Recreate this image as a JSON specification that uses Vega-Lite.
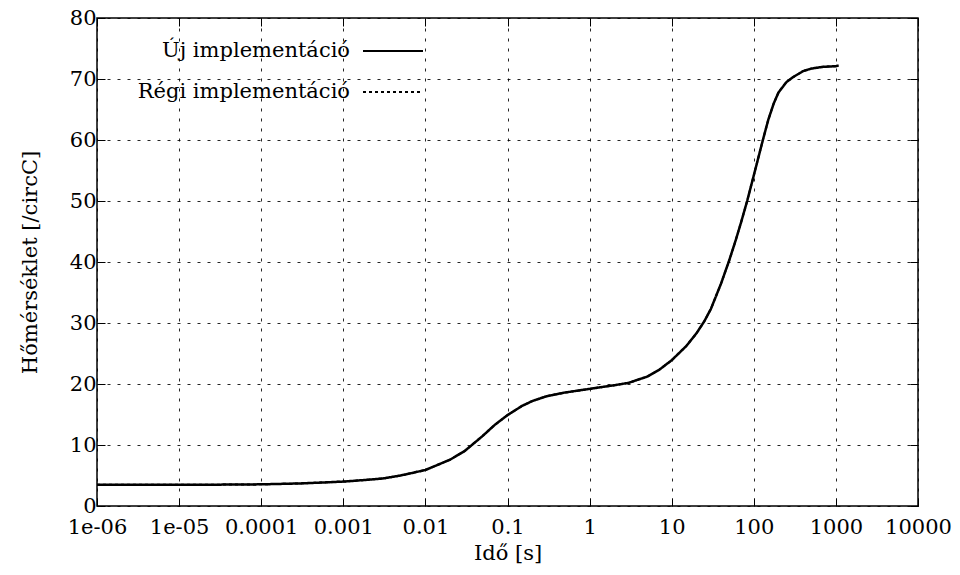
{
  "$schema": "https://vega.github.io/schema/vega-lite/v6.json",
  "width": 821,
  "height": 488,
  "autosize": {"type": "none"},
  "padding": {"left": 97, "top": 18, "right": 42, "bottom": 69},
  "background": "white",
  "config": {
    "view": {"stroke": "#000", "strokeWidth": 1.5},
    "font": "DejaVu Serif",
    "axis": {
      "labelFont": "DejaVu Serif",
      "labelFontSize": 21,
      "labelColor": "#000",
      "titleFont": "DejaVu Serif",
      "titleFontSize": 21,
      "titleFontWeight": "normal",
      "titleColor": "#000",
      "domainColor": "#000",
      "tickColor": "#000",
      "tickWidth": 1,
      "gridColor": "#000",
      "gridOpacity": 0.85,
      "gridDash": [3, 7],
      "gridWidth": 1
    },
    "legend": {
      "labelFont": "DejaVu Serif",
      "labelFontSize": 21,
      "labelColor": "#000",
      "labelLimit": 0
    }
  },
  "data": {
    "values": [
      {"t": 0.000001, "temp": 3.5, "series": "Új implementáció"},
      {"t": 0.00001, "temp": 3.5, "series": "Új implementáció"},
      {"t": 0.00003, "temp": 3.5, "series": "Új implementáció"},
      {"t": 0.0001, "temp": 3.55, "series": "Új implementáció"},
      {"t": 0.0003, "temp": 3.7, "series": "Új implementáció"},
      {"t": 0.001, "temp": 4.0, "series": "Új implementáció"},
      {"t": 0.002, "temp": 4.3, "series": "Új implementáció"},
      {"t": 0.003, "temp": 4.5, "series": "Új implementáció"},
      {"t": 0.005, "temp": 5.0, "series": "Új implementáció"},
      {"t": 0.01, "temp": 5.9, "series": "Új implementáció"},
      {"t": 0.02, "temp": 7.6, "series": "Új implementáció"},
      {"t": 0.03, "temp": 9.0, "series": "Új implementáció"},
      {"t": 0.05, "temp": 11.5, "series": "Új implementáció"},
      {"t": 0.07, "temp": 13.3, "series": "Új implementáció"},
      {"t": 0.1, "temp": 14.9, "series": "Új implementáció"},
      {"t": 0.15, "temp": 16.4, "series": "Új implementáció"},
      {"t": 0.2, "temp": 17.2, "series": "Új implementáció"},
      {"t": 0.3, "temp": 18.0, "series": "Új implementáció"},
      {"t": 0.5, "temp": 18.6, "series": "Új implementáció"},
      {"t": 1, "temp": 19.2, "series": "Új implementáció"},
      {"t": 2, "temp": 19.8, "series": "Új implementáció"},
      {"t": 3, "temp": 20.2, "series": "Új implementáció"},
      {"t": 5, "temp": 21.2, "series": "Új implementáció"},
      {"t": 7, "temp": 22.3, "series": "Új implementáció"},
      {"t": 10, "temp": 23.9, "series": "Új implementáció"},
      {"t": 15, "temp": 26.2, "series": "Új implementáció"},
      {"t": 20, "temp": 28.3, "series": "Új implementáció"},
      {"t": 25, "temp": 30.3, "series": "Új implementáció"},
      {"t": 30, "temp": 32.3, "series": "Új implementáció"},
      {"t": 40, "temp": 36.5, "series": "Új implementáció"},
      {"t": 50, "temp": 40.2, "series": "Új implementáció"},
      {"t": 60, "temp": 43.5, "series": "Új implementáció"},
      {"t": 70, "temp": 46.5, "series": "Új implementáció"},
      {"t": 83, "temp": 50, "series": "Új implementáció"},
      {"t": 100, "temp": 54.2, "series": "Új implementáció"},
      {"t": 129, "temp": 60, "series": "Új implementáció"},
      {"t": 150, "temp": 63.3, "series": "Új implementáció"},
      {"t": 175, "temp": 66, "series": "Új implementáció"},
      {"t": 200, "temp": 67.8, "series": "Új implementáció"},
      {"t": 250, "temp": 69.5, "series": "Új implementáció"},
      {"t": 300, "temp": 70.3, "series": "Új implementáció"},
      {"t": 400, "temp": 71.3, "series": "Új implementáció"},
      {"t": 500, "temp": 71.7, "series": "Új implementáció"},
      {"t": 700, "temp": 72.0, "series": "Új implementáció"},
      {"t": 1000, "temp": 72.1, "series": "Új implementáció"},
      {"t": 1080, "temp": 72.2, "series": "Új implementáció"},
      {"t": 0.000001, "temp": 3.5, "series": "Régi implementáció"},
      {"t": 0.00001, "temp": 3.5, "series": "Régi implementáció"},
      {"t": 0.00003, "temp": 3.5, "series": "Régi implementáció"},
      {"t": 0.0001, "temp": 3.55, "series": "Régi implementáció"},
      {"t": 0.0003, "temp": 3.7, "series": "Régi implementáció"},
      {"t": 0.001, "temp": 4.0, "series": "Régi implementáció"},
      {"t": 0.002, "temp": 4.3, "series": "Régi implementáció"},
      {"t": 0.003, "temp": 4.5, "series": "Régi implementáció"},
      {"t": 0.005, "temp": 5.0, "series": "Régi implementáció"},
      {"t": 0.01, "temp": 5.9, "series": "Régi implementáció"},
      {"t": 0.02, "temp": 7.6, "series": "Régi implementáció"},
      {"t": 0.03, "temp": 9.0, "series": "Régi implementáció"},
      {"t": 0.05, "temp": 11.5, "series": "Régi implementáció"},
      {"t": 0.07, "temp": 13.3, "series": "Régi implementáció"},
      {"t": 0.1, "temp": 14.9, "series": "Régi implementáció"},
      {"t": 0.15, "temp": 16.4, "series": "Régi implementáció"},
      {"t": 0.2, "temp": 17.2, "series": "Régi implementáció"},
      {"t": 0.3, "temp": 18.0, "series": "Régi implementáció"},
      {"t": 0.5, "temp": 18.6, "series": "Régi implementáció"},
      {"t": 1, "temp": 19.2, "series": "Régi implementáció"},
      {"t": 2, "temp": 19.8, "series": "Régi implementáció"},
      {"t": 3, "temp": 20.2, "series": "Régi implementáció"},
      {"t": 5, "temp": 21.2, "series": "Régi implementáció"},
      {"t": 7, "temp": 22.3, "series": "Régi implementáció"},
      {"t": 10, "temp": 23.9, "series": "Régi implementáció"},
      {"t": 15, "temp": 26.2, "series": "Régi implementáció"},
      {"t": 20, "temp": 28.3, "series": "Régi implementáció"},
      {"t": 25, "temp": 30.3, "series": "Régi implementáció"},
      {"t": 30, "temp": 32.3, "series": "Régi implementáció"},
      {"t": 40, "temp": 36.5, "series": "Régi implementáció"},
      {"t": 50, "temp": 40.2, "series": "Régi implementáció"},
      {"t": 60, "temp": 43.5, "series": "Régi implementáció"},
      {"t": 70, "temp": 46.5, "series": "Régi implementáció"},
      {"t": 83, "temp": 50, "series": "Régi implementáció"},
      {"t": 100, "temp": 54.2, "series": "Régi implementáció"},
      {"t": 129, "temp": 60, "series": "Régi implementáció"},
      {"t": 150, "temp": 63.3, "series": "Régi implementáció"},
      {"t": 175, "temp": 66, "series": "Régi implementáció"},
      {"t": 200, "temp": 67.8, "series": "Régi implementáció"},
      {"t": 250, "temp": 69.5, "series": "Régi implementáció"},
      {"t": 300, "temp": 70.3, "series": "Régi implementáció"},
      {"t": 400, "temp": 71.3, "series": "Régi implementáció"},
      {"t": 500, "temp": 71.7, "series": "Régi implementáció"},
      {"t": 700, "temp": 72.0, "series": "Régi implementáció"},
      {"t": 1000, "temp": 72.1, "series": "Régi implementáció"},
      {"t": 1080, "temp": 72.2, "series": "Régi implementáció"}
    ]
  },
  "layer": [
    {
      "transform": [{"filter": "datum.series === 'Régi implementáció'"}],
      "mark": {"type": "line", "color": "#000", "strokeWidth": 2},
      "encoding": {
        "x": {
          "field": "t", "type": "quantitative",
          "scale": {"type": "log", "domain": [0.000001, 10000], "nice": false},
          "axis": {
            "orient": "bottom",
            "title": "Idő [s]",
            "titlePadding": 5,
            "values": [0.000001, 0.00001, 0.0001, 0.001, 0.01, 0.1, 1, 10, 100, 1000, 10000],
            "labelExpr": "['1e-06','1e-05','0.0001','0.001','0.01','0.1','1','10','100','1000','10000'][round(log(datum.value)/LN10)+6]",
            "tickSize": -8,
            "labelPadding": 18,
            "labelFlush": false,
            "labelOverlap": false,
            "grid": true,
            "domain": false
          }
        },
        "y": {
          "field": "temp", "type": "quantitative",
          "scale": {"domain": [0, 80], "nice": false},
          "axis": {
            "orient": "left",
            "title": "Hőmérséklet [/circC]",
            "titlePadding": 29,
            "values": [0, 10, 20, 30, 40, 50, 60, 70, 80],
            "tickSize": -8,
            "labelPadding": 9,
            "grid": true,
            "domain": false
          }
        },
        "strokeDash": {
          "field": "series", "type": "nominal",
          "scale": {"domain": ["Új implementáció", "Régi implementáció"], "range": [[1, 0], [3, 3]]},
          "legend": {
            "title": null,
            "orient": "none",
            "legendX": 265,
            "legendY": 2,
            "symbolType": "stroke",
            "symbolSize": 3600,
            "symbolStrokeWidth": 2,
            "symbolStrokeColor": "#000",
            "labelAlign": "right",
            "labelOffset": -74,
            "rowPadding": -9
          }
        }
      }
    },
    {
      "transform": [{"filter": "datum.series === 'Új implementáció'"}],
      "mark": {"type": "line", "color": "#000", "strokeWidth": 2.5},
      "encoding": {
        "x": {
          "field": "t", "type": "quantitative",
          "scale": {"type": "log", "domain": [0.000001, 10000], "nice": false},
          "axis": {
            "orient": "top",
            "title": null,
            "values": [0.000001, 0.00001, 0.0001, 0.001, 0.01, 0.1, 1, 10, 100, 1000, 10000],
            "labels": false,
            "tickSize": -8,
            "grid": false,
            "domain": false
          }
        },
        "y": {
          "field": "temp", "type": "quantitative",
          "scale": {"domain": [0, 80], "nice": false},
          "axis": {
            "orient": "right",
            "title": null,
            "values": [0, 10, 20, 30, 40, 50, 60, 70, 80],
            "labels": false,
            "tickSize": -8,
            "grid": false,
            "domain": false
          }
        },
        "strokeDash": {
          "field": "series", "type": "nominal",
          "scale": {"domain": ["Új implementáció", "Régi implementáció"], "range": [[1, 0], [3, 3]]}
        }
      }
    }
  ],
  "resolve": {"axis": {"x": "independent", "y": "independent"}}
}
